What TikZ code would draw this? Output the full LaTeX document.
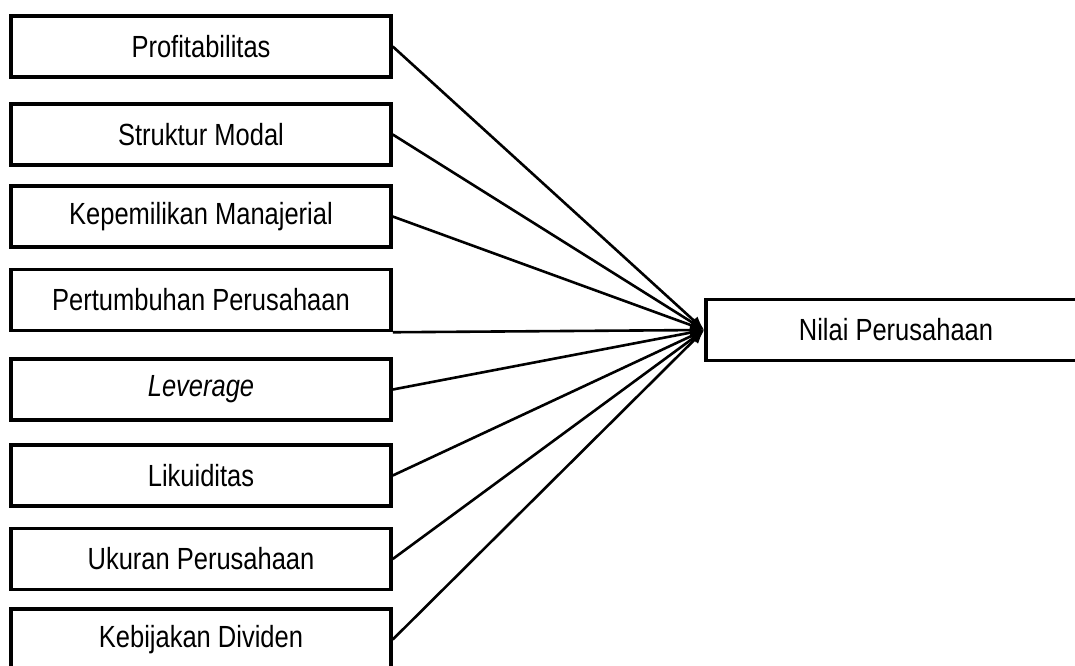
\documentclass[tikz,border=0pt]{standalone}
\usepackage{fontspec}
\setmainfont{Liberation Sans}
\usetikzlibrary{arrows.meta}

\newcommand{\teks}[1]{\scalebox{1}[1.2]{#1}}

\begin{document}
\begin{tikzpicture}[x=1pt, y=1pt,
        font = \fontsize{25.5}{30}\selectfont,
        var/.style = {draw, line width=3.5pt, minimum width=380pt, minimum height=61pt, inner sep=0pt},
        panah/.style = {line width=2.6pt, -{Latex[length=14pt, width=11pt]}}]
        \useasboundingbox (0,0) rectangle (1075,-665);
        \clip (0,0) rectangle (1075,-665);

        \node[var] (prof) at (201,-46.5) {\teks{Profitabilitas}};
        \node[var] (struk) at (201,-134.5) {\teks{Struktur Modal}};
        \node[var] (kepem) at (201,-216.5) {\teks{Kepemilikan Manajerial}};
        \node[var] (tumbuh) at (201,-300) {\teks{Pertumbuhan Perusahaan}};
        \node[var] (lev) at (201,-389.5) {\teks{\itshape Leverage}};
        \node[var] (likuid) at (201,-475.5) {\teks{Likuiditas}};
        \node[var] (ukuran) at (201,-559) {\teks{Ukuran Perusahaan}};
        \node[var] (divid) at (201,-639.5) {\teks{Kebijakan Dividen}};

        \node[var] (nilai) at (896,-330) {\teks{Nilai Perusahaan}};

        \draw[panah] (prof.east) -- (nilai.west);
        \draw[panah] (struk.east) -- (nilai.west);
        \draw[panah] (kepem.east) -- (nilai.west);
        \draw[panah] (tumbuh.south east) -- (nilai.west);
        \draw[panah] (lev.east) -- (nilai.west);
        \draw[panah] (likuid.east) -- (nilai.west);
        \draw[panah] (ukuran.east) -- (nilai.west);
        \draw[panah] (divid.east) -- (nilai.west);
\end{tikzpicture}
\end{document}
